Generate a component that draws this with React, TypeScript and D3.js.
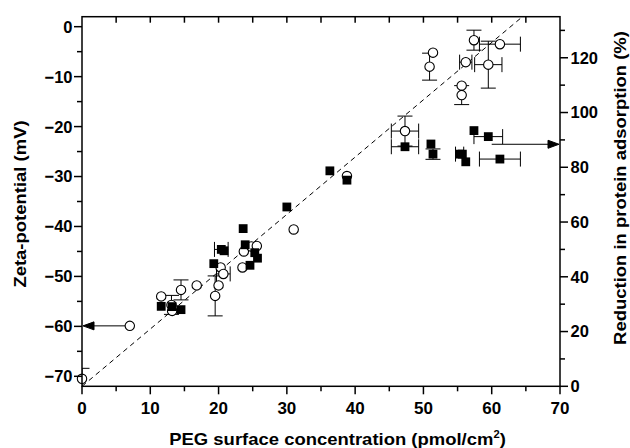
import React from 'react';
import * as d3 from 'd3';

const W = 630;
const H = 448;
const PL = 82, PR = 560, PT = 16.7, PB = 386.3;

// axis ticks
const xMajor = [0, 10, 20, 30, 40, 50, 60, 70];
const xMinor = [5, 15, 25, 35, 45, 55, 65];
const zetaMajor = [0, -10, -20, -30, -40, -50, -60, -70];
const zetaMinor = [-5, -15, -25, -35, -45, -55, -65];
const redMajor = [0, 20, 40, 60, 80, 100, 120];
const redMinor = [10, 30, 50, 70, 90, 110, 130];

// Zeta-potential (open circles, left axis)
const zetaX = [0, 7.0, 11.6, 13.1, 13.2, 14.5, 16.8, 19.5, 20.0, 20.3, 20.7, 23.5, 23.7, 24.8, 25.6, 31.0, 38.8, 47.3, 50.9, 51.4, 55.6, 55.6, 56.2, 57.4, 59.5, 61.2];
const zetaY = [-70.5, -59.9, -54.0, -55.7, -56.9, -52.7, -51.8, -53.9, -51.8, -48.2, -49.5, -48.2, -45.0, -44.0, -43.9, -40.6, -29.9, -20.9, -8.0, -5.2, -11.8, -13.7, -7.1, -2.7, -7.6, -3.5];
const zetaXErr = [0, 0, 0, 0, 0, 0, 0, 0, 0, 0, 1.0, 0, 0, 0, 0, 0, 0, 2.0, 0, 0, 0, 0, 0.9, 0, 2.0, 3.0];
const zetaYErr = [2.1, 0, 0, 1.9, 0, 2.0, 0, 4.0, 0, 0, 0, 0, 0, 0, 0, 0, 0, 3.0, 2.7, 0, 0, 1.9, 0, 2.0, 4.7, 0];

// Reduction in protein adsorption (filled squares, right axis)
const redX = [11.6, 13.2, 14.5, 19.3, 20.4, 20.8, 23.6, 23.9, 24.6, 25.3, 25.7, 30.0, 36.3, 38.8, 47.3, 51.1, 51.4, 55.3, 55.7, 56.2, 57.4, 59.5, 61.2];
const redY = [29.2, 29.1, 28.0, 44.8, 50.0, 49.5, 57.6, 51.7, 44.2, 48.8, 46.8, 65.5, 78.7, 75.3, 87.5, 88.5, 84.8, 84.8, 84.8, 82.0, 93.4, 91.2, 83.0];
const redXErr = [0, 0, 0, 0, 1.0, 0, 0, 0, 0, 0, 0, 0, 0, 0, 2.0, 0, 0, 0.6, 0, 0, 0, 2.1, 3.0];
const redYErr = [0, 0, 0, 0, 0, 0, 0, 0, 0, 0, 0, 0, 0, 0, 0, 0, 1.9, 0, 0, 0, 0, 0, 0];

// dashed guide line (x, zeta)
const guideX = [0, 64.5];
const guideY = [-72, 2];

// arrows: start points
const zetaArrow = { x: 7.0, y: -59.9 };
const redArrow = { x: 60.0, y: 88.4 };

const FONT = "'Liberation Sans', Arial, Helvetica, sans-serif";

export default function App() {
  const x = d3.scaleLinear().domain([0, 70]).range([PL, PR]);
  const yL = d3.scaleLinear().domain([-72, 2]).range([PB, PT]);
  const yR = d3.scaleLinear().domain([0, 135]).range([PB, PT]);
  const fmt = d3.format('d');
  const cap = 7.5;

  const errBars = (xs: number[], ys: number[], xe: number[], ye: number[], ys_: d3.ScaleLinear<number, number>, key: string) =>
    xs.map((xv, i) => {
      const cx = x(xv);
      const cy = ys_(ys[i]);
      const els: any[] = [];
      if (ye[i] > 0) {
        const y1 = ys_(ys[i] + ye[i]);
        const y2 = ys_(ys[i] - ye[i]);
        els.push(<line key="v" x1={cx} x2={cx} y1={y1} y2={y2} />);
        els.push(<line key="c1" x1={cx - cap} x2={cx + cap} y1={y1} y2={y1} />);
        els.push(<line key="c2" x1={cx - cap} x2={cx + cap} y1={y2} y2={y2} />);
      }
      if (xe[i] > 0) {
        const x1 = x(xv - xe[i]);
        const x2 = x(xv + xe[i]);
        els.push(<line key="h" x1={x1} x2={x2} y1={cy} y2={cy} />);
        els.push(<line key="c3" x1={x1} x2={x1} y1={cy - cap} y2={cy + cap} />);
        els.push(<line key="c4" x1={x2} x2={x2} y1={cy - cap} y2={cy + cap} />);
      }
      return <g key={key + i}>{els}</g>;
    });

  const guide = d3.line<number>().x((d) => x(d)).y((_, i) => yL(guideY[i]));

  return (
    <svg width={W} height={H} style={{ position: 'absolute', left: 0, top: 0, display: 'block', background: '#fff' }}
      fontFamily={FONT} fontWeight="bold">
      <defs>
        <clipPath id="plotclip">
          <rect x={PL} y={PT} width={PR - PL} height={PB - PT} />
        </clipPath>
      </defs>

      {/* dashed guide */}
      <path d={guide(guideX) || ''} fill="none" stroke="#000" strokeWidth={1} strokeDasharray="5,4" clipPath="url(#plotclip)" />

      {/* error bars */}
      <g stroke="#000" strokeWidth={1} clipPath="url(#plotclip)">
        {errBars(zetaX, zetaY, zetaXErr, zetaYErr, yL, 'ze')}
        {errBars(redX, redY, redXErr, redYErr, yR, 're')}
      </g>

      {/* arrows */}
      <g stroke="#000" strokeWidth={1} fill="#000">
        <line x1={x(zetaArrow.x)} x2={x(0) + 10} y1={yL(zetaArrow.y)} y2={yL(zetaArrow.y)} />
        <path d={`M${x(0) + 1},${yL(zetaArrow.y)} l11,-4 l0,8 z`} />
        <line x1={x(redArrow.x)} x2={x(70) - 10} y1={yR(redArrow.y)} y2={yR(redArrow.y)} />
        <path d={`M${x(70) - 1},${yR(redArrow.y)} l-11,-4 l0,8 z`} />
      </g>

      {/* open circles */}
      <g fill="#fff" stroke="#000" strokeWidth={1.1}>
        {zetaX.map((xv, i) => (
          <circle key={'c' + i} cx={x(xv)} cy={yL(zetaY[i])} r={4.7} />
        ))}
      </g>

      {/* filled squares */}
      <g fill="#000" stroke="none">
        {redX.map((xv, i) => (
          <rect key={'s' + i} x={x(xv) - 4.4} y={yR(redY[i]) - 4.4} width={8.8} height={8.8} />
        ))}
      </g>

      {/* frame */}
      <rect x={PL} y={PT} width={PR - PL} height={PB - PT} fill="none" stroke="#000" strokeWidth={1.5} />

      {/* ticks */}
      <g stroke="#000" strokeWidth={1.5}>
        {xMajor.map((t) => <line key={'bx' + t} x1={x(t)} x2={x(t)} y1={PB} y2={PB + 8} />)}
        {xMinor.map((t) => <line key={'bn' + t} x1={x(t)} x2={x(t)} y1={PB} y2={PB + 5} />)}
        {[...xMinor, ...xMajor.slice(1, -1)].map((t) => <line key={'tx' + t} x1={x(t)} x2={x(t)} y1={PT} y2={PT + 6} />)}
        {zetaMajor.map((t) => <line key={'lz' + t} x1={PL - 8} x2={PL} y1={yL(t)} y2={yL(t)} />)}
        {zetaMinor.map((t) => <line key={'ln' + t} x1={PL - 5} x2={PL} y1={yL(t)} y2={yL(t)} />)}
        {redMajor.map((t) => <line key={'rz' + t} x1={PR} x2={PR + 8} y1={yR(t)} y2={yR(t)} />)}
        {redMinor.map((t) => <line key={'rn' + t} x1={PR} x2={PR + 5} y1={yR(t)} y2={yR(t)} />)}
      </g>

      <g fontSize={17} fill="#000" textAnchor="middle">
        {xMajor.map((t) => <text key={'xl' + t} x={x(t)} y={413.5}>{fmt(t)}</text>)}
      </g>
      <g fontSize={16.5} fill="#000" textAnchor="end">
        {zetaMajor.map((t) => <text key={'yl' + t} x={PL - 9.5} y={yL(t)} dy="0.36em">{fmt(t)}</text>)}
      </g>
      <g fontSize={16.5} fill="#000" textAnchor="start">
        {redMajor.map((t) => <text key={'rl' + t} x={PR + 10.5} y={yR(t)} dy="0.36em">{fmt(t)}</text>)}
      </g>

      {/* axis titles */}
      <text transform="translate(337.5,445) scale(1.12,1)" fontSize={16.5} textAnchor="middle">
        PEG surface concentration (pmol/cm<tspan fontSize={10} dy={-7}>2</tspan><tspan dy={7}>)</tspan>
      </text>
      <text transform="translate(20,204) rotate(-90) scale(1.12,1)" fontSize={16.5} textAnchor="middle" dy="0.36em">
        Zeta-potential (mV)
      </text>
      <text transform="translate(620,188) rotate(-90) scale(1.12,1)" fontSize={16.5} textAnchor="middle" dy="0.36em">
        Reduction in protein adsorption (%)
      </text>
    </svg>
  );
}
